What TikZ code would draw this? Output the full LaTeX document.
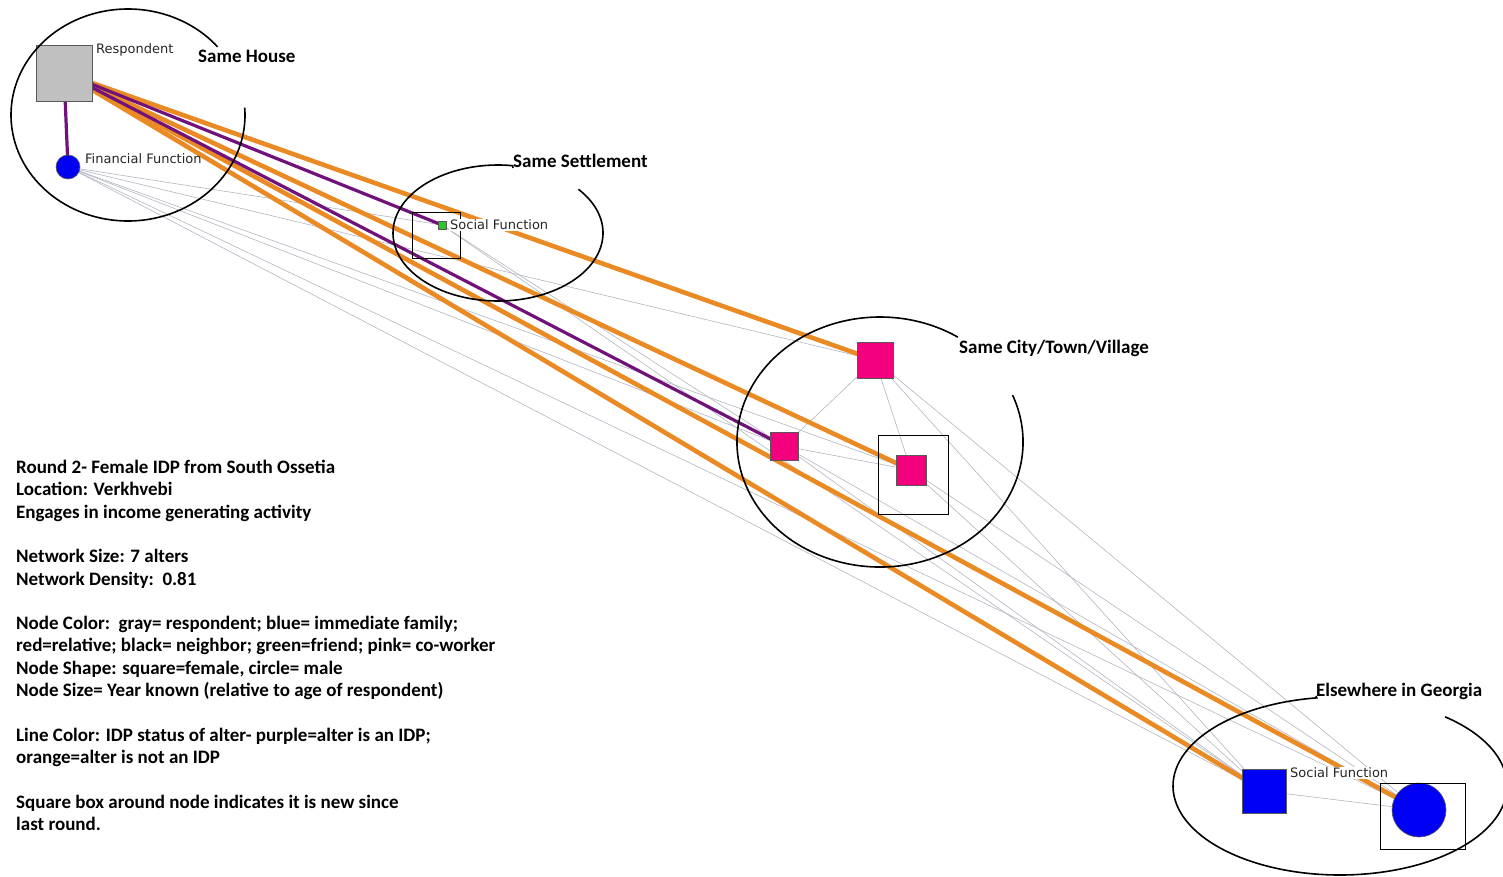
\documentclass[tikz,border=0pt]{standalone}
\usepackage{fontspec}
\setmainfont{Carlito}
\newfontfamily\labelfont{DejaVu Sans}
\usepackage{xcolor}
\usepackage{tikz}
\usetikzlibrary{backgrounds}

\definecolor{respgray}{RGB}{192,192,192}
\definecolor{famblue}{RGB}{0,0,245}
\definecolor{friendgreen}{RGB}{40,200,40}
\definecolor{workpink}{RGB}{242,0,126}
\definecolor{idppurple}{RGB}{112,18,122}
\definecolor{nonidporange}{RGB}{234,138,36}
\definecolor{tiegray}{RGB}{178,182,192}

\begin{document}
\begin{tikzpicture}[
    x=1pt, y=-1pt,
    sqnode/.style={
        rectangle, inner sep=0pt, minimum size=#1,
        draw=black!65, line width=0.6pt
    },
    crnode/.style={
        circle, inner sep=0pt, minimum size=#1,
        draw=black!65, line width=0.6pt
    },
    newbox/.style={
        rectangle, draw, line width=0.8pt, inner sep=0pt
    },
    namelabel/.style={
        font=\labelfont\fontsize{13}{15}\selectfont, text=black!85,
        inner sep=1pt, anchor=west
    },
    placelabel/.style={
        font=\bfseries\fontsize{19}{22}\selectfont,
        inner sep=0pt, anchor=base west
    },
    zone/.style={draw, line width=1.6pt},
    idptie/.style={draw=idppurple, line width=3.2pt},
    nonidptie/.style={draw=nonidporange, line width=4.6pt},
    altertie/.style={draw=tiegray, line width=0.6pt}
]
    \useasboundingbox (0,0) rectangle (1503,877);

    % Respondent and alters
    \node [sqnode=56, fill=respgray] (resp) at (64,73) {};
    \node [crnode=24, fill=famblue] (fin) at (68,167) {};
    \node [sqnode=8, fill=friendgreen] (soc) at (442,225) {};
    \node [sqnode=36, fill=workpink] (pinka) at (875,360) {};
    \node [sqnode=28, fill=workpink] (pinkb) at (784,446) {};
    \node [sqnode=30, fill=workpink] (pinkc) at (911,470) {};
    \node [sqnode=44, fill=famblue] (bluea) at (1264,791) {};
    \node [crnode=54, fill=famblue] (blueb) at (1419,810) {};

    % New since last round
    \node [newbox, minimum width=48, minimum height=46] (socbox) at (436,235) {};
    \node [newbox, minimum width=70, minimum height=79] (pinkcbox) at (913,474.5) {};
    \node [newbox, minimum width=85, minimum height=66] (bluebbox) at (1422.5,816) {};

    % Node names
    \node [namelabel] (resplbl) at (95,50) {Respondent};
    \node [namelabel] (finlbl) at (84,159) {Financial Function};
    \node [namelabel, fill=white] (soclbl) at (449,225) {Social Function};
    \node [namelabel, fill=white] (bluealbl) at (1289,773) {Social Function};

    % Ties
    \begin{scope}[on background layer]
        \foreach \a/\b in {fin/soc, fin/pinka, fin/pinkb, fin/pinkc, fin/bluea, fin/blueb,
                           soc/pinkb, soc/bluea,
                           pinka/pinkb, pinka/pinkc, pinka/bluea, pinka/blueb,
                           pinkb/pinkc, pinkb/bluea, pinkb/blueb,
                           pinkc/bluea, pinkc/blueb, bluea/blueb}
            \draw [altertie] (\a.center) -- (\b.center);
        \foreach \b in {pinka, pinkc, blueb, bluea}
            \draw [nonidptie] (resp.center) -- (\b.center);
        \foreach \b in {fin, soc, pinkb}
            \draw [idptie] (resp.center) -- (\b.center);
    \end{scope}

    % Place zones
    \node [placelabel] (houselbl) at (198,63) {Same House};
    \node [placelabel] (settlelbl) at (513,168) {Same Settlement};
    \node [placelabel] (citylbl) at (959,353) {Same City/Town/Village};
    \node [placelabel] (georgialbl) at (1316,696) {Elsewhere in Georgia};

    \draw [zone] (128,115) ++(-4:117 and 106) arc [start angle=-4, end angle=320, x radius=117, y radius=106];
    \draw [zone] (498,233) ++(-40:105 and 68) arc [start angle=-40, end angle=278, x radius=105, y radius=68] -- (settlelbl.base west);
    \draw [zone] (880,442) ++(-22:143 and 125) arc [start angle=-22, end angle=303, x radius=143, y radius=125];
    \draw [zone] (1340,786) ++(-51:167 and 89) arc [start angle=-51, end angle=262, x radius=167, y radius=89] -- (georgialbl.base west);

    % Legend
    \node [anchor=north west, align=left, inner sep=0pt,
           font=\bfseries\fontsize{19}{22.3}\selectfont] (legend) at (16,460) {%
        Round 2- Female IDP from South Ossetia\\
        Location: Verkhvebi\\
        Engages in income generating activity\\[22.3pt]
        Network Size: 7 alters\\
        Network Density:\ \ 0.81\\[22.3pt]
        Node Color:\ \ gray= respondent; blue= immediate family;\\
        red=relative; black= neighbor; green=friend; pink= co-worker\\
        Node Shape: square=female, circle= male\\
        Node Size= Year known (relative to age of respondent)\\[22.3pt]
        Line Color: IDP status of alter- purple=alter is an IDP;\\
        orange=alter is not an IDP\\[22.3pt]
        Square box around node indicates it is new since\\
        last round.};

\end{tikzpicture}
\end{document}
